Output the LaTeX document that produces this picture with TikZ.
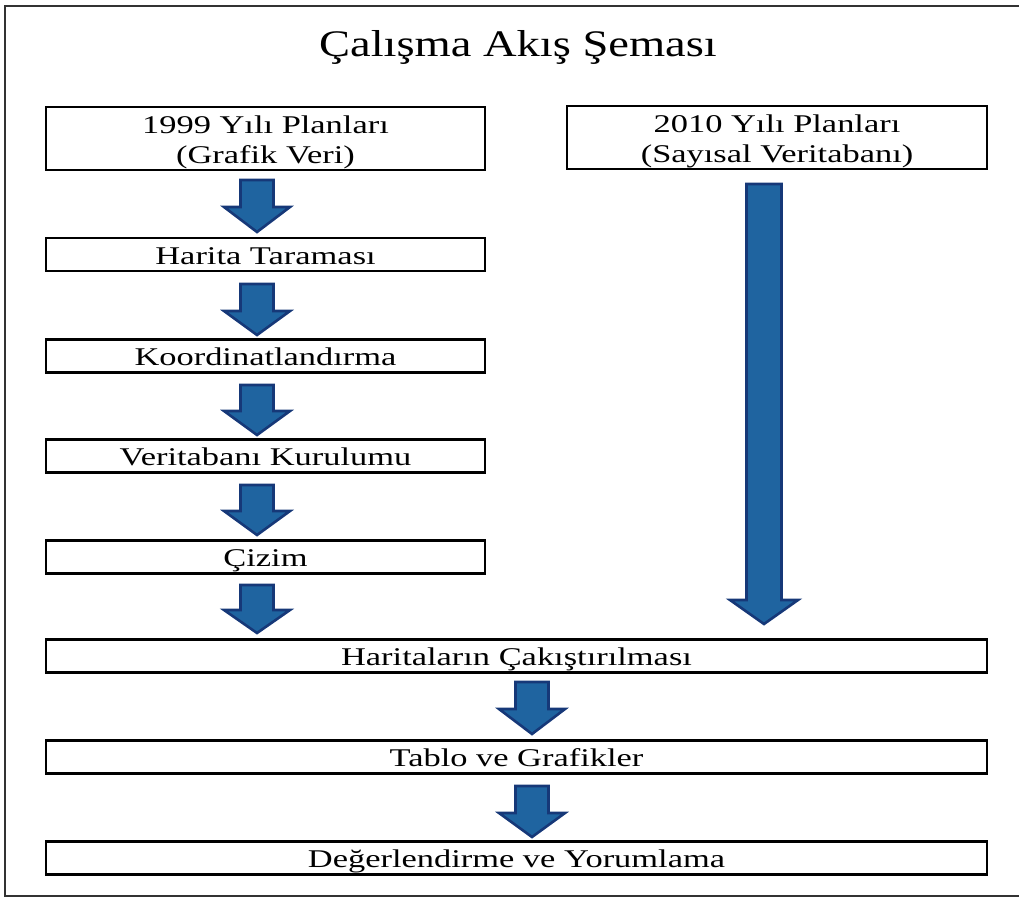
\documentclass[tikz,border=0pt]{standalone}
\usepackage{fontspec}
\newfontfamily\boxfont{Liberation Serif}[FakeStretch=1.35]
\newfontfamily\titlefont{Liberation Serif}[FakeStretch=1.24]
\usetikzlibrary{calc}
\definecolor{arrowfill}{RGB}{31,100,160}
\definecolor{arrowline}{RGB}{22,56,120}
\definecolor{framegray}{RGB}{50,50,50}
\tikzset{
  boxtext/.style={font=\boxfont\fontsize{25.5}{30}\selectfont, align=center, inner sep=0pt},
  box/.style={draw=black, line width=2.8pt, fill=white, inner sep=0pt, boxtext,
    text height=19pt, text depth=0pt},
  twobox/.style={draw=black, line width=2.8pt, fill=white, inner sep=0pt,
    minimum height=63pt},
  blockarrow/.style={fill=arrowfill, draw=arrowline, line width=2.6pt, line join=miter},
}
% #1 = top-centre coordinate name, #2 = shaft half width, #3 = head half width,
% #4 = distance from top to head base, #5 = distance from top to tip
\newcommand{\downblock}[5]{%
  \draw[blockarrow]
    ($(#1)+(-#2,0)$) -- ($(#1)+(#2,0)$) -- ($(#1)+(#2,#4)$) -- ($(#1)+(#3,#4)$)
    -- ($(#1)+(0,#5)$) -- ($(#1)+(-#3,#4)$) -- ($(#1)+(-#2,#4)$) -- cycle;
}
\begin{document}
\begin{tikzpicture}[x=1pt,y=-1pt]
\useasboundingbox (0,0) rectangle (1019,899);
\clip (0,0) rectangle (1019,899);
\draw[framegray, line width=2.2pt] (5,6) rectangle (1040,896);

\node[font=\titlefont\fontsize{37.5}{40}\selectfont] (title) at (518,47) {Çalışma Akış Şeması};

\node[twobox, minimum width=439pt] (b1) at (265.5,138.5) {};
\node[boxtext] (b1t) at ($(b1.center)+(0,3.5)$) {1999 Yılı Planları\\(Grafik Veri)};
\node[twobox, minimum width=420pt] (b2) at (777,137.5) {};
\node[boxtext] (b2t) at ($(b2.center)+(0,3.5)$) {2010 Yılı Planları\\(Sayısal Veritabanı)};
\node[box, minimum width=439pt, minimum height=33pt] (harita) at (265.5,254.5) {Harita Taraması};
\node[box, minimum width=439pt, minimum height=33pt] (koord) at (265.5,356) {Koordinatlandırma};
\node[box, minimum width=439pt, minimum height=33pt] (veri) at (265.5,456) {Veritabanı Kurulumu};
\node[box, minimum width=439pt, minimum height=33pt] (cizim) at (265.5,557) {Çizim};
\node[box, minimum width=941pt, minimum height=33pt] (hak) at (516.5,656) {Haritaların Çakıştırılması};
\node[box, minimum width=941pt, minimum height=33pt] (tablo) at (516.5,757) {Tablo ve Grafikler};
\node[box, minimum width=941pt, minimum height=33pt] (deger) at (516.5,858) {Değerlendirme ve Yorumlama};

\coordinate (a1) at (257,180);
\coordinate (a2) at (257,284);
\coordinate (a3) at (257,385);
\coordinate (a4) at (257,485);
\coordinate (a5) at (257,585);
\coordinate (a6) at (532,682);
\coordinate (a7) at (532,786);
\coordinate (a8) at (764,184);

\downblock{a1}{16.5}{33}{27}{52}
\downblock{a2}{16.5}{33}{27}{51}
\downblock{a3}{16.5}{33}{26}{50}
\downblock{a4}{16.5}{33}{26}{50}
\downblock{a5}{16.5}{33}{25}{48}
\downblock{a6}{16.5}{33}{27}{52}
\downblock{a7}{16.5}{33}{27}{51}
\downblock{a8}{17.5}{34}{416}{440}
\end{tikzpicture}
\end{document}
